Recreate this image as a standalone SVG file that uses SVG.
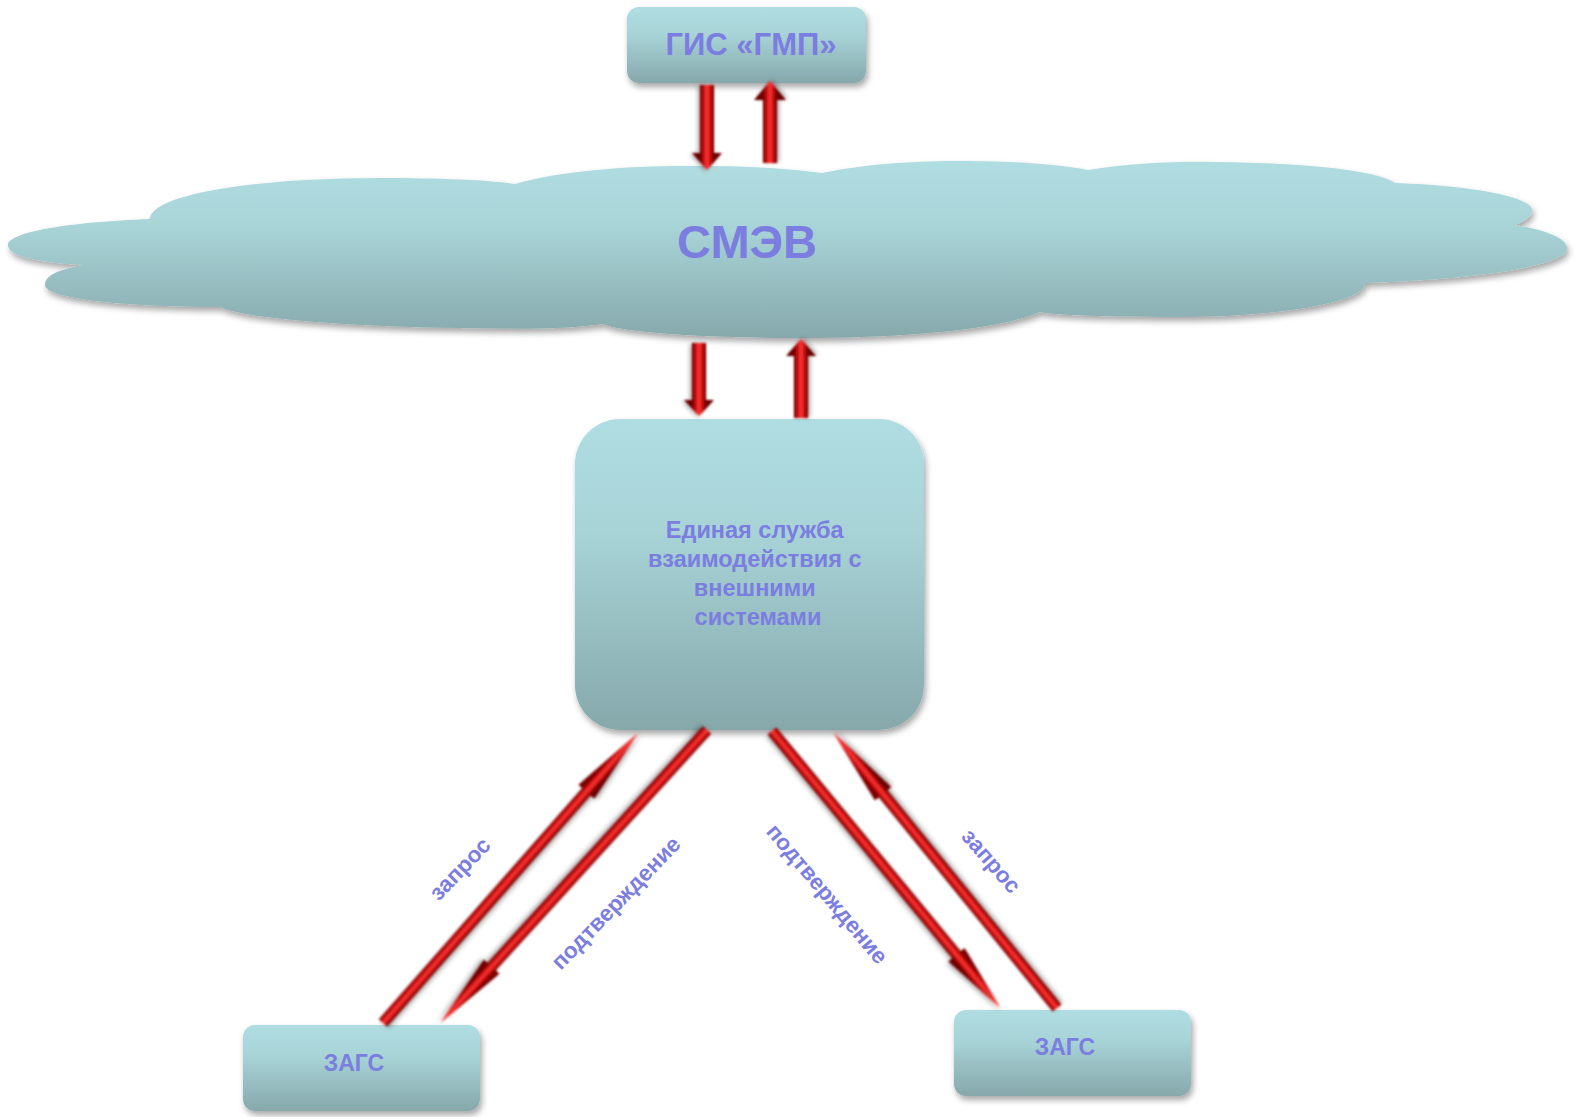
<svg xmlns="http://www.w3.org/2000/svg" width="1575" height="1117" viewBox="0 0 1575 1117">
<defs>
<linearGradient id="boxg" x1="0" y1="0" x2="0" y2="1">
<stop offset="0" stop-color="#afdde1"/>
<stop offset="0.35" stop-color="#a8d4d8"/>
<stop offset="1" stop-color="#86a8ab"/>
</linearGradient>
<linearGradient id="cloudg" gradientUnits="userSpaceOnUse" x1="0" y1="160" x2="0" y2="340">
<stop offset="0" stop-color="#b0dde1"/>
<stop offset="0.35" stop-color="#a9d5d9"/>
<stop offset="1" stop-color="#86a8ab"/>
</linearGradient>
<linearGradient id="shaftV" gradientUnits="userSpaceOnUse" x1="0" y1="-7" x2="0" y2="7">
<stop offset="0" stop-color="#6e0000"/>
<stop offset="0.3" stop-color="#d40f0f"/>
<stop offset="0.5" stop-color="#ff3a3a"/>
<stop offset="0.7" stop-color="#d01010"/>
<stop offset="1" stop-color="#6a0000"/>
</linearGradient>
<linearGradient id="shaftD" gradientUnits="userSpaceOnUse" x1="0" y1="-5.5" x2="0" y2="5.5">
<stop offset="0" stop-color="#7a0000"/>
<stop offset="0.3" stop-color="#d81212"/>
<stop offset="0.5" stop-color="#ff3b3b"/>
<stop offset="0.7" stop-color="#d01010"/>
<stop offset="1" stop-color="#6a0000"/>
</linearGradient>
<filter id="sh" x="-10%" y="-10%" width="125%" height="135%">
<feDropShadow dx="2" dy="4" stdDeviation="3" flood-color="#000" flood-opacity="0.35"/>
</filter>
<filter id="ash" x="-30%" y="-30%" width="160%" height="160%">
<feGaussianBlur in="SourceGraphic" stdDeviation="0.8" result="b"/>
<feDropShadow in="b" dx="1" dy="2" stdDeviation="2" flood-color="#000" flood-opacity="0.35"/>
</filter>
<filter id="dsh" x="-30%" y="-30%" width="160%" height="160%">
<feGaussianBlur in="SourceGraphic" stdDeviation="1.1" result="b"/>
<feDropShadow in="b" dx="1" dy="2" stdDeviation="2.5" flood-color="#000" flood-opacity="0.4"/>
</filter>
</defs>
<style>
.box{fill:url(#boxg);filter:url(#sh)}
.t{font-family:"Liberation Sans",Arial,sans-serif;font-weight:bold;fill:#7b7de0;text-anchor:middle}
.av{fill:url(#shaftV);filter:url(#ash)}
.ad{fill:url(#shaftD);filter:url(#dsh)}
</style>
<rect width="1575" height="1117" fill="#ffffff"/>

<g id="cloud-smev">
<path fill="url(#cloudg)" filter="url(#sh)" d="M8,245 C8,232 70,222 150,219 C150,195 250,178 380,178 C440,178 490,180 515,184 C560,170 640,165 700,166 C760,166 800,170 822,173 C870,163 920,161 960,161 C1020,161 1060,165 1088,170 C1130,163 1180,161 1215,162 C1320,163 1380,172 1395,183 C1480,186 1532,198 1532,210 C1532,218 1522,222 1515,225 C1545,230 1567,238 1567,248 C1567,268 1460,280 1365,283 C1365,305 1260,317 1190,317 C1110,317 1050,315 1040,312 C1000,330 900,338 800,338 C700,338 620,332 603,324 C560,330 510,329 460,328 C350,327 240,318 220,307 C120,307 45,298 45,285 C45,275 60,269 84,265 C30,262 8,255 8,245 Z"/>
<text class="t" x="747" y="258" font-size="47">СМЭВ</text>
</g>

<g id="node-gis">
<rect class="box" x="627" y="7" width="239" height="76" rx="12"/>
<text class="t" x="751" y="55" font-size="31">ГИС «ГМП»</text>
</g>

<g id="node-service">
<rect class="box" x="575" y="419" width="349" height="311" rx="45"/>
<text class="t" font-size="23.5">
<tspan x="758" y="538">Единая служба</tspan>
<tspan x="758" y="567">взаимодействия с</tspan>
<tspan x="758" y="596">внешними</tspan>
<tspan x="758" y="625">системами</tspan>
</text>
</g>

<g id="node-zags-left">
<rect class="box" x="243" y="1025" width="237" height="86" rx="12"/>
<text class="t" x="354" y="1071" font-size="23">ЗАГС</text>
</g>

<g id="node-zags-right">
<rect class="box" x="954" y="1010" width="237" height="86" rx="12"/>
<text class="t" x="1065" y="1055" font-size="23">ЗАГС</text>
</g>

<g id="connectors">
<path class="av" transform="translate(707,85) rotate(90)" d="M0,-7 L68,-7 L68,-15 L85,0 L68,15 L68,7 L0,7 Z"/>
<path class="av" transform="translate(770,163) rotate(-90)" d="M0,-7 L63,-7 L63,-16 L82,0 L63,16 L63,7 L0,7 Z"/>
<path class="av" transform="translate(699,343) rotate(90)" d="M0,-7 L57,-7 L57,-15 L73,0 L57,15 L57,7 L0,7 Z"/>
<path class="av" transform="translate(801,418) rotate(-90)" d="M0,-7 L62,-7 L62,-15 L79,0 L62,15 L62,7 L0,7 Z"/>
<path class="ad" transform="translate(383,1023) rotate(-48.67)" d="M0,-5.5 L308,-5.5 L308,-10.5 L386,0 L308,10.5 L308,5.5 L0,5.5 Z"/>
<path class="ad" transform="translate(707,730) rotate(132.3)" d="M0,-5.5 L320,-5.5 L320,-10.5 L396,0 L320,10.5 L320,5.5 L0,5.5 Z"/>
<path class="ad" transform="translate(772,731) rotate(50.5)" d="M0,-5.5 L290,-5.5 L290,-10.5 L359,0 L290,10.5 L290,5.5 L0,5.5 Z"/>
<path class="ad" transform="translate(1057,1008) rotate(-129.06)" d="M0,-5.5 L276,-5.5 L276,-10.5 L355,0 L276,10.5 L276,5.5 L0,5.5 Z"/>
<text class="t" font-size="22.5" transform="translate(461,870) rotate(-46)" y="6">запрос</text>
<text class="t" font-size="22.5" transform="translate(617,904) rotate(-46)" y="6">подтверждение</text>
<text class="t" font-size="22.5" transform="translate(826,895) rotate(50)" y="6">подтверждение</text>
<text class="t" font-size="22.5" transform="translate(990,862) rotate(49)" y="6">запрос</text>
</g>
</svg>
